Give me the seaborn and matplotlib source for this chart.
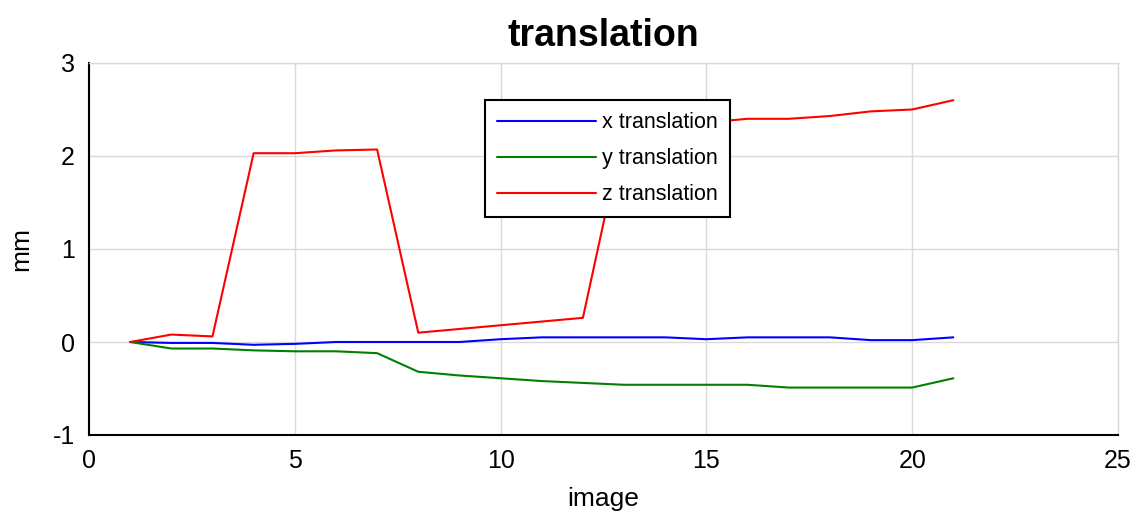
import numpy as np
import pandas as pd
import matplotlib
matplotlib.use("Agg")
import matplotlib.pyplot as plt
import seaborn as sns

images = list(range(1, 22))
x_translation = [0, -0.01, -0.01, -0.03, -0.02, 0, 0, 0, 0, 0.03, 0.05, 0.05, 0.05, 0.05, 0.03,
                 0.05, 0.05, 0.05, 0.02, 0.02, 0.05]
y_translation = [0, -0.07, -0.07, -0.09, -0.1, -0.1, -0.12, -0.32, -0.36, -0.39, -0.42, -0.44, -0.46,
                 -0.46, -0.46, -0.46, -0.49, -0.49, -0.49, -0.49, -0.39]
z_translation = [0, 0.08, 0.06, 2.03, 2.03, 2.06, 2.07, 0.1, 0.14, 0.18, 0.22, 0.26, 2.3,
                 2.34, 2.36, 2.4, 2.4, 2.43, 2.48, 2.5, 2.6]
series_names = ["x translation", "y translation", "z translation"]
series_colors = ["#0000ff", "#008000", "#ff0000"]

df = pd.DataFrame({
    "image": images * 3,
    "mm": x_translation + y_translation + z_translation,
    "series": sum([[n] * len(images) for n in series_names], []),
})

sns.set_theme(style="white")
plt.rcParams["font.family"] = ["Liberation Sans", "DejaVu Sans"]
plt.rcParams["axes.unicode_minus"] = False
plt.rcParams["text.color"] = "black"
plt.rcParams["axes.labelcolor"] = "black"

fig = plt.figure(figsize=(11.35, 5.29), dpi=100)
ax = fig.add_axes([89 / 1135, 1 - 435 / 529, 1029 / 1135, 372 / 529])

sns.lineplot(data=df, x="image", y="mm", hue="series", hue_order=series_names,
             palette=series_colors, linewidth=1.5, ax=ax, estimator=None)

ax.set_xlim(0, 25)
ax.set_ylim(-1, 3)
ax.set_xticks([0, 5, 10, 15, 20, 25])
ax.set_yticks([-1, 0, 1, 2, 3])
ax.grid(True, color="#d9d9d9", linewidth=1)
ax.tick_params(direction="in", length=6, width=1.5, labelsize=18, colors="black",
               pad=10)
for s in ["left", "bottom"]:
    ax.spines[s].set_color("black")
    ax.spines[s].set_linewidth(1.5)
for s in ["top", "right"]:
    ax.spines[s].set_color("#d9d9d9")
    ax.spines[s].set_linewidth(1)
ax.set_xlabel("image", fontsize=19, labelpad=10)
ax.set_ylabel("mm", fontsize=19, labelpad=14)
ax.set_title("translation", fontsize=27, fontweight="bold", pad=12)

leg = ax.legend(loc="upper left", bbox_to_anchor=(0.385, 0.9), fontsize=15.5,
                frameon=True, fancybox=False, edgecolor="black", handlelength=4.6,
                borderpad=0.55, labelspacing=0.7, handletextpad=0.3, borderaxespad=0)
leg.get_frame().set_linewidth(1.5)
leg.get_frame().set_alpha(1)
leg.set_title(None)

fig.savefig("out.png", dpi=100)
